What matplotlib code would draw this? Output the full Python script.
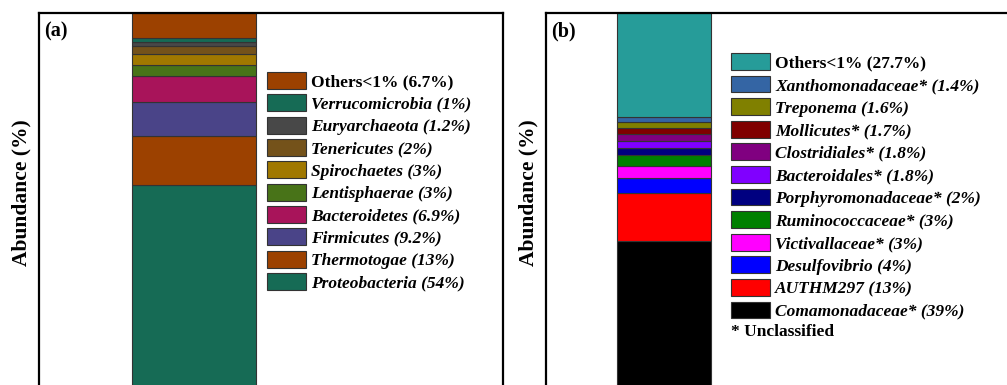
import numpy as np
import matplotlib
matplotlib.use('Agg')
from matplotlib import pyplot as plt

plt.rcParams['font.family'] = ['Liberation Serif', 'DejaVu Serif']

# DATA (bottom to top of each stacked bar)
names_a = ['Proteobacteria', 'Thermotogae', 'Firmicutes', 'Bacteroidetes', 'Lentisphaerae',
           'Spirochaetes', 'Tenericutes', 'Euryarchaeota', 'Verrucomicrobia', 'Others<1%']
vals_a = [54, 13, 9.2, 6.9, 3, 3, 2, 1.2, 1, 6.7]
pct_a = ['54%', '13%', '9.2%', '6.9%', '3%', '3%', '2%', '1.2%', '1%', '6.7%']
colors_a = ['#166b55', '#9c4100', '#4a4488', '#a8145a', '#487318',
            '#a07800', '#74521a', '#484848', '#166b55', '#9c4100']

names_b = ['Comamonadaceae*', 'AUTHM297', 'Desulfovibrio', 'Victivallaceae*', 'Ruminococcaceae*',
           'Porphyromonadaceae*', 'Bacteroidales*', 'Clostridiales*', 'Mollicutes*', 'Treponema',
           'Xanthomonadaceae*', 'Others<1%']
vals_b = [39, 13, 4, 3, 3, 2, 1.8, 1.8, 1.7, 1.6, 1.4, 27.7]
pct_b = ['39%', '13%', '4%', '3%', '3%', '2%', '1.8%', '1.8%', '1.7%', '1.6%', '1.4%', '27.7%']
colors_b = ['#000000', '#ff0000', '#0000ff', '#ff00ff', '#008000', '#000080',
            '#8000ff', '#800080', '#800000', '#808000', '#3465a4', '#269c99']

W, H = 1007, 385
fig = plt.figure(figsize=(W / 100, H / 100), dpi=100)


def panel(left, names, vals, pct, colors, xc, bw, tag, leg_xy, lsp, note=None):
    ax = fig.add_axes([left / W, (H - 387) / H, 464 / W, 374 / H])
    bottoms = np.concatenate([[0], np.cumsum(vals)[:-1]])
    handles = []
    for n, v, b, c in zip(names, vals, bottoms, colors):
        h = ax.bar(xc, v, bw, bottom=b, color=c, edgecolor='#333333', linewidth=0.8)
        handles.append(h)
    ax.set_xlim(0, 1)
    ax.set_ylim(0, 100)
    ax.set_xticks([])
    ax.set_yticks([])
    for s in ax.spines.values():
        s.set_linewidth(1.6)
        s.set_color('black')
    ax.set_ylabel('Abundance (%)', fontsize=15.5, fontweight='bold')
    ax.yaxis.set_label_coords(-0.017, 0.521)
    ax.text(0.011, 0.95, tag, transform=ax.transAxes, fontsize=14.5, fontweight='bold',
            va='center', ha='left')
    labels = ['%s (%s)' % (n, p) for n, p in zip(names, pct)]
    leg = ax.legend(handles[::-1], labels[::-1], loc='upper left',
                    bbox_to_anchor=(leg_xy[0] / W, 1 - leg_xy[1] / H),
                    bbox_transform=fig.transFigure, frameon=False, fontsize=12.5,
                    handlelength=2.25, handleheight=1.12, labelspacing=lsp,
                    handletextpad=0.3, borderpad=0, borderaxespad=0)
    for i, t in enumerate(leg.get_texts()):
        t.set_fontweight('bold')
        if i > 0:
            t.set_fontstyle('italic')
    if note:
        fig.text(note[0] / W, 1 - note[1] / H, note[2], fontsize=12.5, fontweight='bold',
                 va='center', ha='left')
    return ax


panel(39, names_a, vals_a, pct_a, colors_a, 0.334, 0.267, '(a)', (267, 72), 0.23)
panel(546, names_b, vals_b, pct_b, colors_b, 0.254, 0.203, '(b)', (731, 53), 0.245,
      note=(731, 332, '* Unclassified'))

fig.savefig('out.png', dpi=100)
